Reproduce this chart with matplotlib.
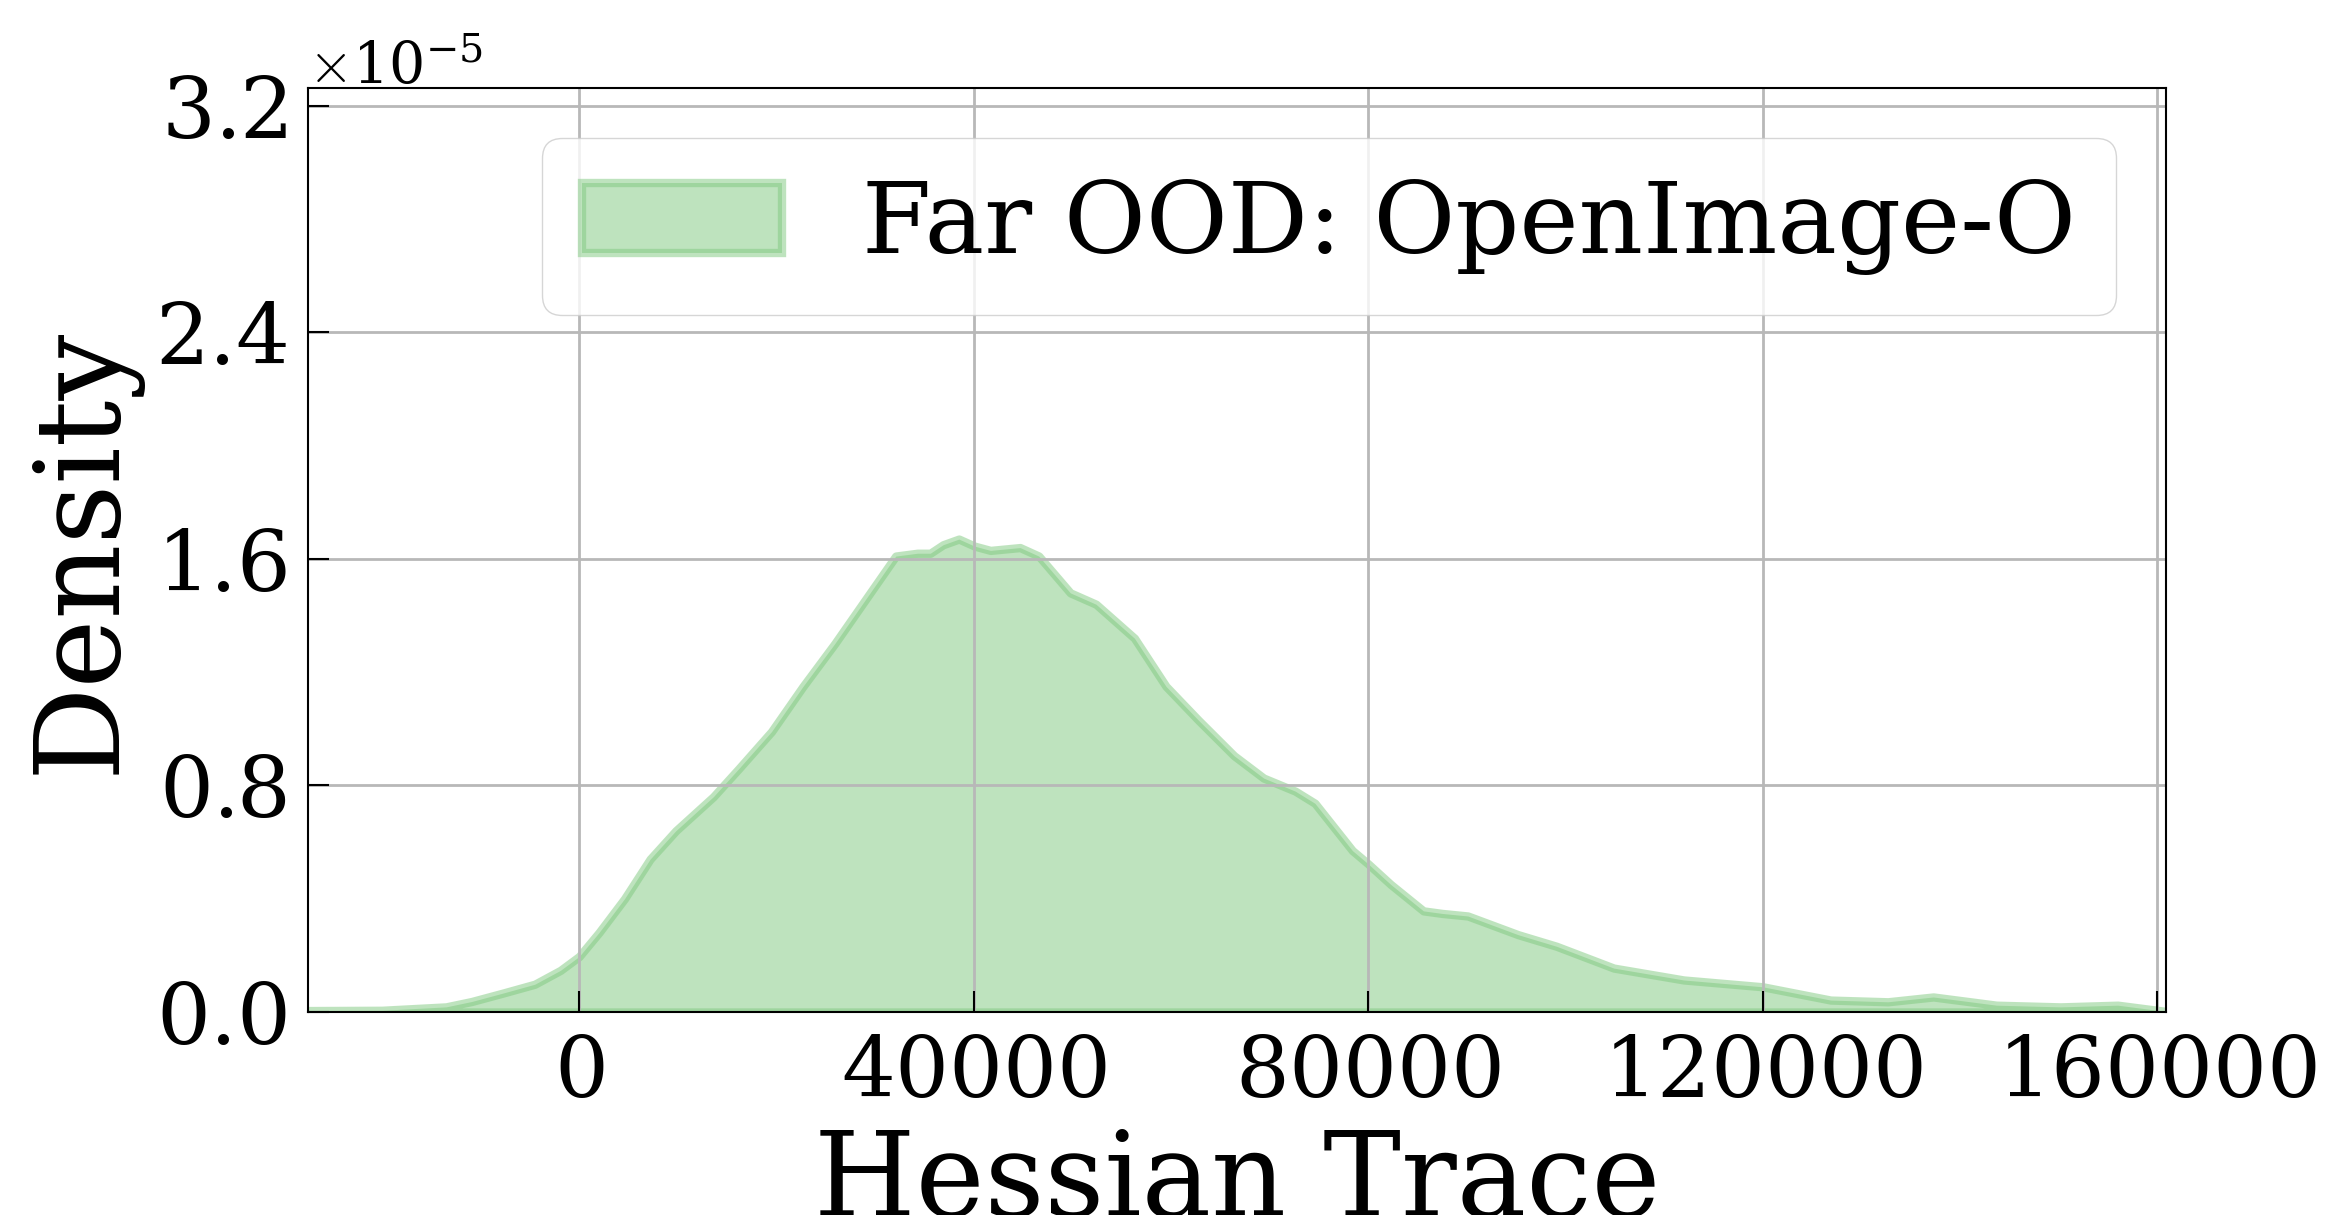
import matplotlib

matplotlib.use("Agg")
import matplotlib.pyplot as plt
from matplotlib.ticker import MultipleLocator, ScalarFormatter


# KDE curve (x = Hessian trace, y = density in units of 1e-5)
HESSIAN_TRACE = [
    -27500, -20000, -13500, -10900, -7700, -4500, -1900, 0, 2000, 4600,
    7200, 9800, 13600, 16200, 19500, 22700, 25900, 29100, 32100, 34300,
    35600, 36900, 38500, 40100, 41700, 44700, 46600, 49800, 52400, 56300,
    59500, 62800, 66400, 69400, 72600, 74600, 78400, 80000, 82300, 85600,
    87500, 90100, 95200, 99100, 104900, 112000, 120000, 126900, 132700, 137300,
    143700, 150200, 156000, 160900,
]
DENSITY_E5 = [
    0.005, 0.006, 0.018, 0.037, 0.067, 0.098, 0.147, 0.196, 0.28, 0.40,
    0.54, 0.64, 0.76, 0.86, 0.99, 1.15, 1.30, 1.46, 1.61, 1.62,
    1.62, 1.65, 1.67, 1.645, 1.63, 1.64, 1.61, 1.48, 1.44, 1.32,
    1.15, 1.03, 0.905, 0.826, 0.78, 0.737, 0.57, 0.523, 0.45, 0.357,
    0.348, 0.339, 0.273, 0.232, 0.155, 0.113, 0.089, 0.042, 0.036, 0.053,
    0.024, 0.018, 0.024, 0.002,
]
LABEL = "Far OOD: OpenImage-O"
COLOR = "#7fc97f"

plt.rcParams["font.family"] = "DejaVu Serif"
plt.rcParams["mathtext.fontset"] = "cm"
plt.rcParams["axes.formatter.use_mathtext"] = True

fig = plt.figure(figsize=(23.47, 12.15), dpi=100)
ax = fig.add_axes([0.1312, 0.1671, 0.7917, 0.7605])

density = [d * 1e-5 for d in DENSITY_E5]
ax.fill_between(HESSIAN_TRACE, density, color=COLOR, alpha=0.5, linewidth=6,
                joinstyle="round", label=LABEL)

ax.set_xlim(-27500, 160900)
ax.set_ylim(0, 3.263e-5)
ax.xaxis.set_major_locator(MultipleLocator(40000))
ax.yaxis.set_major_locator(MultipleLocator(0.8e-5))

fmt = ScalarFormatter(useMathText=True)
fmt.set_powerlimits((0, 0))
ax.yaxis.set_major_formatter(fmt)

ax.tick_params(direction="in", length=15, width=1.5, labelsize=61, pad=15)
ax.yaxis.get_offset_text().set_fontsize(41)
ax.grid(True, color="#b8b8b8", linewidth=2)
for spine in ax.spines.values():
    spine.set_linewidth(1.5)

ax.set_xlabel("Hessian Trace", fontsize=84, labelpad=8)
ax.set_ylabel("Density", fontsize=84, labelpad=11)
ax.legend(loc="upper right", fontsize=72)

fig.savefig("out.png", dpi=100)
plt.close(fig)
